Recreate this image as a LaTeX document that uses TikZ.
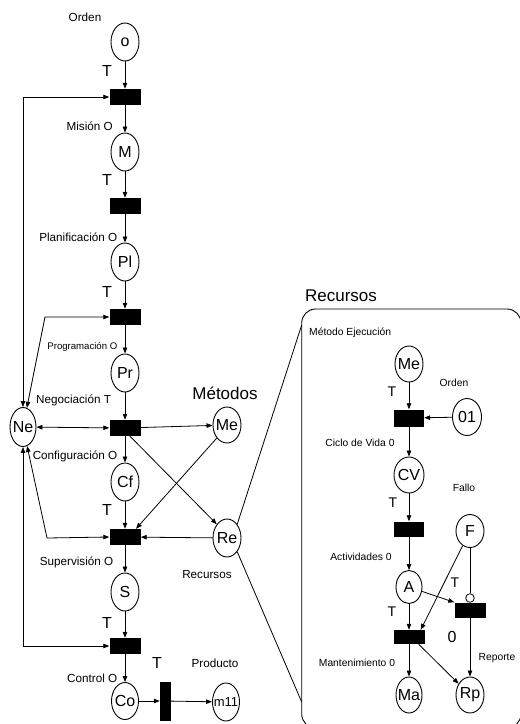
\documentclass[tikz,border=0pt]{standalone}
\usepackage{fontspec}
\setmainfont{Liberation Sans}
\usetikzlibrary{arrows.meta,shapes.geometric,calc}
\newcommand{\cen}[1]{\makebox[0pt]{#1}}

\begin{document}
\begin{tikzpicture}[x=1pt,y=-1pt,
  place/.style={draw,ellipse,line width=0.9pt,inner sep=0pt,
    minimum width=28pt,minimum height=38pt,font=\fontsize{16}{16}\selectfont},
  trans/.style={fill=black,rectangle,inner sep=0pt,
    minimum width=31pt,minimum height=16pt},
  vtrans/.style={trans,minimum width=11pt,minimum height=39pt},
  rtrans/.style={trans,minimum width=30pt,minimum height=15pt},
  tip/.tip={Triangle[length=6pt,width=4.5pt]},
  arc/.style={line width=0.8pt,-tip},
  biarc/.style={line width=0.8pt,tip-tip},
  link/.style={line width=0.8pt},
  lbl/.style={inner sep=0pt,font=\fontsize{11.7}{13}\selectfont},
  slbl/.style={inner sep=0pt,font=\fontsize{10.3}{12}\selectfont},
  xlbl/.style={inner sep=0pt,font=\fontsize{9.6}{11}\selectfont},
  big/.style={inner sep=0pt,font=\fontsize{17}{19}\selectfont},
  tlbl/.style={inner sep=0pt,font=\fontsize{16}{16}\selectfont},
  rtlbl/.style={inner sep=0pt,font=\fontsize{14}{14}\selectfont},
]
\useasboundingbox (0,0) rectangle (520,724);

% ---------- main chain ----------
\node[place] (O)  at (125,42)  {\cen{o}};
\node[trans] (t1) at (125,97)  {};
\node[place] (M)  at (125,152) {\cen{M}};
\node[trans] (t2) at (125,206) {};
\node[place] (Pl) at (125,262) {\cen{Pl}};
\node[trans] (t3) at (125,317) {};
\node[place] (Pr) at (125,373) {\cen{Pr}};
\node[trans] (t4) at (125,428) {};
\node[place] (Cf) at (125,482) {\cen{Cf}};
\node[trans] (t5) at (125,537) {};
\node[place] (S)  at (125,592) {\cen{S}};
\node[trans] (t6) at (125,646) {};
\node[place,minimum width=27pt,minimum height=37pt] (Co) at (125,701) {\cen{Co}};
\node[vtrans] (tv) at (165.5,701) {};
\node[place,minimum width=27pt,font=\fontsize{13}{13}\selectfont] (m11) at (226,702) {\cen{m11}};

\node[place,minimum width=26pt,minimum height=39pt] (Ne) at (23,427) {\cen{Ne}};
\node[place,minimum height=36pt] (Me) at (227,425) {\cen{Me}};
\node[place] (Re) at (227,538) {\cen{Re}};

% labels of the main chain
\node[lbl] (lOrden) at (85,17) {Orden};
\node[tlbl] (T1) at (107,71) {T};
\node[lbl,anchor=east] (lMis) at (113,126) {Misión O};
\node[tlbl] (T2) at (107,180) {T};
\node[lbl,anchor=east] (lPla) at (117.5,237) {Planificación O};
\node[tlbl] (T3) at (107,292) {T};
\node[xlbl,anchor=east] (lPro) at (117.5,347) {Programación O};
\node[lbl,anchor=west] (lNeg) at (36,400) {Negociación T};
\node[big] (lMet) at (225,393) {Métodos};
\node[lbl,anchor=east] (lCon) at (117.5,456) {Configuración O};
\node[tlbl] (T5) at (107,510) {T};
\node[lbl,anchor=east] (lSup) at (113.5,562) {Supervisión O};
\node[lbl] (lRec) at (207,575) {Recursos};
\node[tlbl] (T6) at (107,623) {T};
\node[tlbl] (T7) at (157,663) {T};
\node[lbl] (lProd) at (215,663) {Producto};
\node[lbl,anchor=east] (lCtl) at (117.5,678) {Control O};

% arcs of the main chain
\draw[arc] (O) -- (t1);
\draw[arc] (t1) -- (M);
\draw[arc] (M) -- (t2);
\draw[arc] (t2) -- (Pl);
\draw[arc] (Pl) -- (t3);
\draw[arc] (t3) -- (Pr);
\draw[arc] (Pr) -- (t4);
\draw[arc] (t4) -- (Cf);
\draw[arc] (Cf) -- (t5);
\draw[arc] (t5) -- (S);
\draw[arc] (S) -- (t6);
\draw[arc] (t6) -- (Co);
\draw[arc] (Co) -- (tv);
\draw[arc] (tv) -- (m11);

% negotiation links
\coordinate (k2) at (45,317);
\coordinate (k3) at (47,538);
\draw[biarc] (t1.west) -- (Ne.north |- t1.west) -- (Ne.north);
\draw[biarc] (t3.west) -- (k2) -- (Ne);
\draw[biarc] (Ne) -- (t4);
\draw[biarc] (Ne) -- (k3) -- (t5.west);
\draw[biarc] (Ne.south) -- (Ne.south |- t6.west) -- (t6.west);

% methods and resources
\draw[arc] (t4) -- (Me);
\draw[arc] ($(t4.south)+(5,0)$) -- (Re.north west);
\draw[arc] (Me.south west) -- ($(t5.north)+(11,0)$);
\draw[arc] (Re) -- (t5);

% ---------- resources detail ----------
\node[big] (lRecT) at (341,296) {Recursos};
\draw[line width=0.9pt,rounded corners=14pt] (301.7,309) rectangle (521,728);
\coordinate (bxa) at (301.7,325);
\coordinate (bxb) at (301.7,702);
\draw[link] (Re.north east) -- (bxa);
\draw[link] (Re.south east) -- (bxb);

\node[slbl,anchor=west] (lMEj) at (309,333) {Método Ejecución};
\node[place,minimum height=36pt] (MeR) at (409,364) {\cen{Me}};
\node[rtlbl] (rT1) at (392,392) {T};
\node[slbl] (lOr2) at (454,383) {Orden};
\node[rtrans,minimum height=17pt] (r1) at (409,418) {};
\node[place,minimum width=29pt,minimum height=37pt] (O1) at (467,417) {\cen{01}};
\node[slbl] (lCic) at (360,443) {Ciclo de Vida 0};
\node[place,minimum width=30pt,minimum height=36pt] (CV) at (409,475) {\cen{CV}};
\node[slbl] (lFal) at (464,488) {Fallo};
\node[rtlbl] (rT2) at (393,503) {T};
\node[rtrans] (r2) at (409,529) {};
\node[place,minimum height=33pt] (F) at (470,531) {\cen{F}};
\node[slbl] (lAct) at (361,557) {Actividades 0};
\node[place,minimum width=26pt,minimum height=33pt] (A) at (409,587) {\cen{A}};
\node[rtlbl] (rT3) at (455,583) {T};
\node[draw,circle,line width=0.8pt,inner sep=0pt,minimum size=8.6pt] (inh) at (470,598) {};
\node[rtrans,minimum width=31pt] (r3) at (470,610) {};
\node[rtlbl] (rT4) at (392,612) {T};
\node[rtrans,minimum width=31pt,minimum height=14pt] (r4) at (409,637) {};
\node[tlbl] (lZero) at (452,637) {0};
\node[slbl] (lMan) at (357,663) {Mantenimiento 0};
\node[slbl] (lRep) at (497,658) {Reporte};
\node[place,minimum width=26pt,minimum height=36pt] (Ma) at (409,695) {\cen{Ma}};
\node[place,minimum height=36pt] (Rp) at (470,695) {\cen{Rp}};

\draw[arc] (MeR) -- (r1);
\draw[arc] (O1) -- (r1);
\draw[arc] (r1) -- (CV);
\draw[arc] (CV) -- (r2);
\draw[arc] (r2) -- (A);
\draw[arc] (A) -- (r4);
\draw[arc] (A) -- (r3.north west);
\draw[link] (F) -- (inh);
\draw[arc] (F) -- ($(r4.north east)+(-4,0)$);
\draw[arc] (r4) -- (Ma);
\draw[arc] ($(r4.south east)+(-6,0)$) -- (Rp);
\draw[arc] (r3) -- (Rp);
\end{tikzpicture}
\end{document}
